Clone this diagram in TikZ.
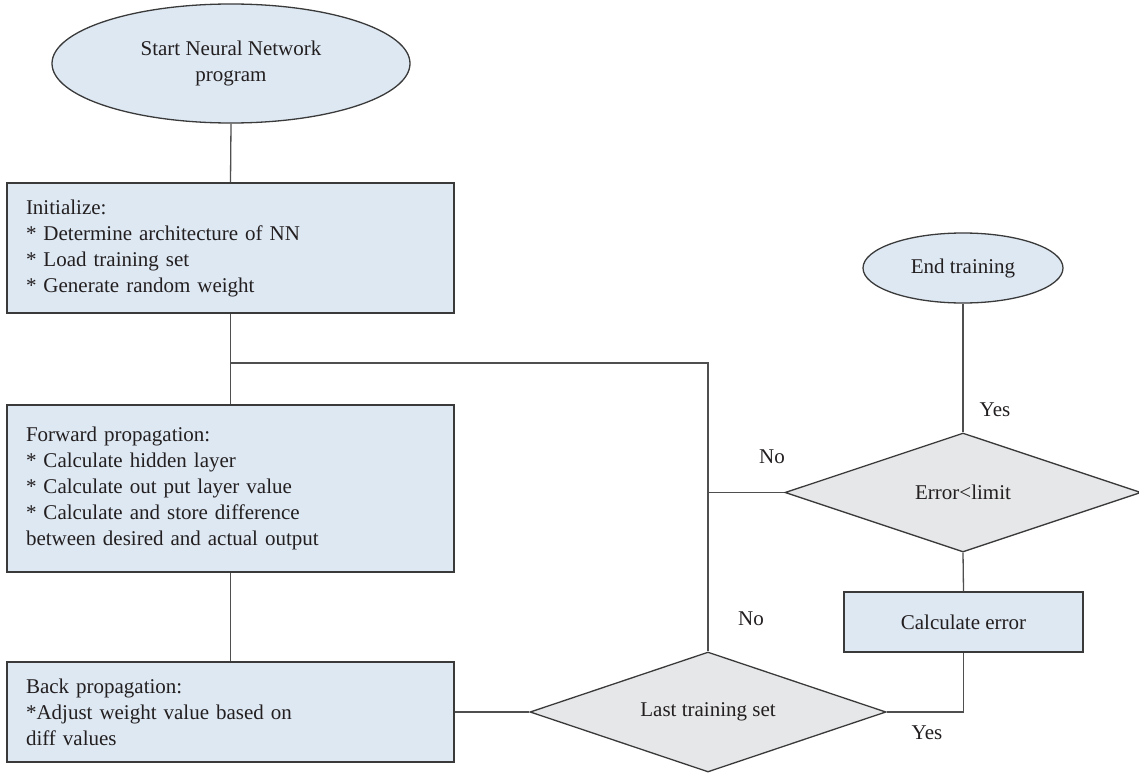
\documentclass[tikz,border=0pt]{standalone}
\usepackage{fontspec}
\setmainfont{Liberation Serif}
\usetikzlibrary{shapes.geometric}
\definecolor{boxblue}{HTML}{DDE8F3}
\definecolor{diagray}{HTML}{E6E7E8}
\definecolor{edgec}{HTML}{3A3A3A}
\definecolor{connc}{HTML}{4F4F4F}
\definecolor{txtc}{HTML}{231F20}
\begin{document}
\begin{tikzpicture}[x=1pt,y=-1pt,
  font=\fontsize{21}{26}\selectfont, text=txtc,
  rectbox/.style={rectangle, draw=edgec, line width=1.3pt, fill=boxblue, inner ysep=0pt, inner xsep=19pt, align=left},
  smallbox/.style={rectangle, draw=edgec, line width=1.3pt, fill=boxblue, inner sep=0pt, align=center},
  ovalbox/.style={ellipse, draw=edgec, line width=1.3pt, fill=boxblue, inner sep=0pt, align=center},
  decbox/.style={diamond, draw=edgec, line width=1.3pt, fill=diagray, inner sep=0pt, aspect=2.97},
  conn/.style={draw=connc, line width=1.3pt},
  lbl/.style={inner sep=0pt}]
\useasboundingbox (0,0) rectangle (1139,773);

\node[ovalbox, minimum width=358pt, minimum height=119pt] (start) at (231,63.5) {Start Neural Network\\program};
\node[rectbox, minimum height=130pt, text width=409pt] (init) at (230.5,248) {Initialize:\\{}* Determine architecture of NN\\{}* Load training set\\{}* Generate random weight};
\node[rectbox, minimum height=167pt, text width=409pt] (fwd) at (230.5,488.5) {Forward propagation:\\{}* Calculate hidden layer\\{}* Calculate out put layer value\\{}* Calculate and store difference\\between desired and actual output};
\node[rectbox, minimum height=100pt, text width=409pt] (back) at (230.5,712) {Back propagation:\\{}*Adjust weight value based on\\diff values};

\node[decbox, minimum width=356pt, minimum height=120pt] (lts) at (708,712) {Last training set};
\node[smallbox, minimum width=239pt, minimum height=60pt] (calc) at (963.5,622) {Calculate error};
\node[decbox, minimum width=356pt, minimum height=119pt] (err) at (963,492.5) {Error<limit};
\node[ovalbox, minimum width=200pt, minimum height=70pt] (endt) at (963,268) {End training};

\coordinate (j1) at (230.5,363);
\coordinate (j2) at (708,363);

\draw[conn] (start.south) -- (init.north);
\draw[conn] (init.south) -- (fwd.north);
\draw[conn] (j1) -- (j2) -- (lts.north);
\draw[conn] (err.west) -- (err.west -| j2);
\draw[conn] (fwd.south) -- (back.north);
\draw[conn] (back.east) -- (lts.west);
\draw[conn] (lts.east) -| (calc.south);
\draw[conn] (calc.north) -- (err.south);
\draw[conn] (err.north) -- (endt.south);

\node[lbl] (yes1) at (995,410) {Yes};
\node[lbl] (no1) at (772,457) {No};
\node[lbl] (no2) at (751,619) {No};
\node[lbl] (yes2) at (927,733) {Yes};
\end{tikzpicture}
\end{document}
